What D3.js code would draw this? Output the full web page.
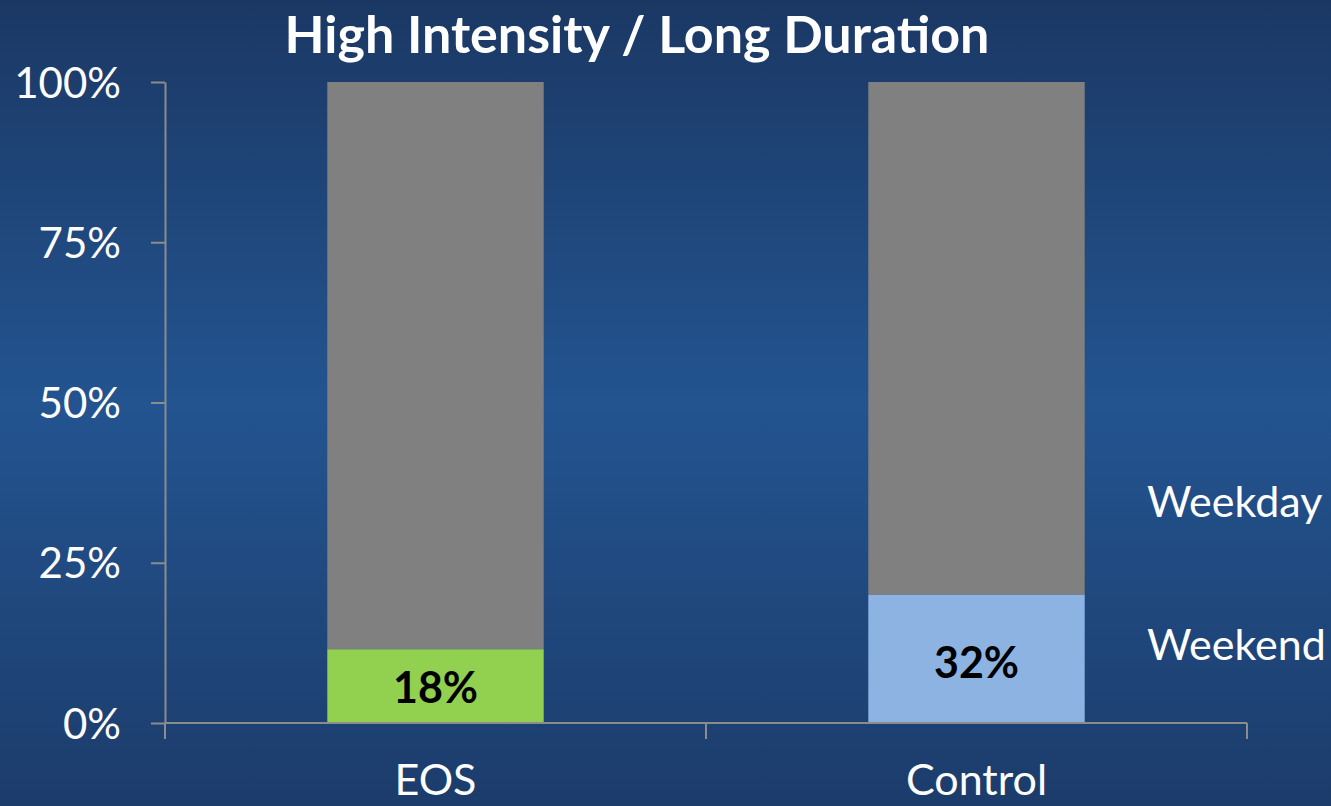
<!DOCTYPE html>
<html>
<head>
<meta charset="utf-8">
<script src="https://cdn.jsdelivr.net/npm/d3@7"></script>
<style>
  body { margin: 0; overflow: hidden; }
  text { font-family: Lato, "Open Sans", sans-serif; }
</style>
</head>
<body>
<div id="chart"></div>
<script>
var groups = ["EOS", "Control"]
var weekend = [11.5, 20]
var weekday = [88.5, 80]
var weekendLabels = ["18%", "32%"]
var yTicks = [0, 25, 50, 75, 100]
var seriesNames = ["Weekday", "Weekend"]

var svgWidth = 1331
var svgHeight = 806

var svg = d3.select("#chart")
    .append("svg")
    .attr("width", svgWidth)
    .attr("height", svgHeight)

var defs = svg.append("defs")
var grad = defs.append("linearGradient")
    .attr("id", "bg")
    .attr("x1", 0).attr("y1", 0).attr("x2", 0).attr("y2", 1)
grad.append("stop").attr("offset", "0%").attr("stop-color", "#1b3864")
grad.append("stop").attr("offset", "50%").attr("stop-color", "#235490")
grad.append("stop").attr("offset", "100%").attr("stop-color", "#1c3c6b")

svg.append("rect")
    .attr("width", svgWidth)
    .attr("height", svgHeight)
    .attr("fill", "url(#bg)")

var x = d3.scaleBand()
    .domain(groups)
    .range([165, 1247])
    .paddingInner(0.6)
    .paddingOuter(0.3)

var y = d3.scaleLinear()
    .domain([0, 100])
    .range([723, 82])

// bars
var barGroup = svg.append("g")
barGroup.selectAll(".weekday")
    .data(groups)
    .enter()
    .append("rect")
    .attr("x", d => x(d))
    .attr("width", x.bandwidth())
    .attr("y", (d, i) => y(weekend[i] + weekday[i]))
    .attr("height", (d, i) => y(weekend[i]) - y(weekend[i] + weekday[i]))
    .attr("fill", "#808080")

var weekendColors = ["#92d050", "#8db3e2"]
barGroup.selectAll(".weekend")
    .data(groups)
    .enter()
    .append("rect")
    .attr("x", d => x(d))
    .attr("width", x.bandwidth())
    .attr("y", (d, i) => y(weekend[i]))
    .attr("height", (d, i) => y(0) - y(weekend[i]))
    .attr("fill", (d, i) => weekendColors[i])

// bar labels
var labelY = [703, 678]
barGroup.selectAll(".lbl")
    .data(groups)
    .enter()
    .append("text")
    .attr("x", d => x(d) + x.bandwidth() / 2)
    .attr("y", (d, i) => labelY[i])
    .attr("text-anchor", "middle")
    .attr("font-size", "43px")
    .attr("font-weight", "bold")
    .attr("fill", "#000")
    .text((d, i) => weekendLabels[i])

// y axis
var leftAxis = d3.axisLeft(y)
    .tickValues(yTicks)
    .tickFormat(d => d + "%")
    .tickSize(14)
    .tickSizeOuter(0)
    .tickPadding(30)
var yAxis = svg.append("g")
    .attr("transform", "translate(165,0)")
    .call(leftAxis)
yAxis.selectAll("line, path").attr("stroke", "#8c8c8c").attr("stroke-width", 2)
yAxis.selectAll("text")
    .attr("fill", "#fff")
    .attr("font-size", "42px")
    .attr("font-family", "Lato, 'Open Sans', sans-serif")
    .attr("dy", "0.36em")

// x axis
var xAxis = svg.append("g")
    .attr("transform", "translate(0,723)")
xAxis.append("line")
    .attr("x1", 165).attr("x2", 1247)
    .attr("stroke", "#8c8c8c").attr("stroke-width", 2)
var xTickPos = [165, 165 + x.step(), 1247]
xAxis.selectAll(".xtick")
    .data(xTickPos)
    .enter()
    .append("line")
    .attr("x1", d => d).attr("x2", d => d)
    .attr("y1", 0).attr("y2", 16)
    .attr("stroke", "#8c8c8c").attr("stroke-width", 2)
xAxis.selectAll(".xlbl")
    .data(groups)
    .enter()
    .append("text")
    .attr("x", d => x(d) + x.bandwidth() / 2)
    .attr("y", 72)
    .attr("text-anchor", "middle")
    .attr("fill", "#fff")
    .attr("font-size", "43px")
    .text(d => d)

// legend-like labels
var legendY = [517, 660]
svg.selectAll(".leg")
    .data(seriesNames)
    .enter()
    .append("text")
    .attr("x", 1147)
    .attr("y", (d, i) => legendY[i])
    .attr("fill", "#fff")
    .attr("font-size", "43px")
    .text(d => d)

// title
svg.append("text")
    .attr("x", 637)
    .attr("y", 53)
    .attr("text-anchor", "middle")
    .attr("fill", "#fff")
    .attr("font-size", "52px")
    .attr("font-weight", "bold")
    .text("High Intensity / Long Duration")
</script>
</body>
</html>
